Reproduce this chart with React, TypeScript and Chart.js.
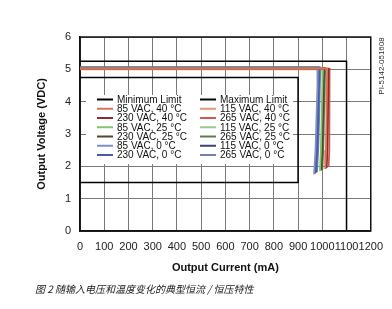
import React, { useEffect, useRef } from "react";
import { Chart, registerables } from "chart.js";

Chart.register(...registerables);

// ---- data ----
const xTicks = [0, 100, 200, 300, 400, 500, 600, 700, 800, 900, 1000, 1100, 1200];
const yTicks = [0, 1, 2, 3, 4, 5, 6];

const minLimitCurrent = [0, 900, 900, 0];
const minLimitVoltage = [4.75, 4.75, 1.5, 1.5];
const maxLimitCurrent = [0, 1100, 1100];
const maxLimitVoltage = [5.25, 5.25, 0];

const seriesNames = [
  "85 VAC, 40 °C", "230 VAC, 40 °C", "85 VAC, 25 °C", "230 VAC, 25 °C", "85 VAC, 0 °C", "230 VAC, 0 °C",
  "115 VAC, 40 °C", "265 VAC, 40 °C", "115 VAC, 25 °C", "265 VAC, 25 °C", "115 VAC, 0 °C", "265 VAC, 0 °C",
];
const seriesColors = [
  "#d9735a", "#8c2d2d", "#86c46a", "#4f4a2e", "#7f8fcc", "#4a5aa8",
  "#e8956a", "#cc5a50", "#9bcb85", "#5f7a55", "#3f4468", "#6f80b8",
];

const current85_40 = [0, 1020, 1019, 1017, 1015, 1012];
const voltage85_40 = [5.02, 5.02, 4.5, 3.5, 2.5, 1.92];
const current230_40 = [0, 1026, 1025, 1023, 1021, 1018];
const voltage230_40 = [5.02, 5.02, 4.5, 3.5, 2.5, 1.95];
const current85_25 = [0, 1002, 1000, 997, 994, 990];
const voltage85_25 = [5.04, 5.04, 4.5, 3.5, 2.5, 1.85];
const current230_25 = [0, 1008, 1006, 1003, 1000, 996];
const voltage230_25 = [5.04, 5.04, 4.5, 3.5, 2.5, 1.88];
const current85_0 = [0, 982, 980, 976, 972, 966];
const voltage85_0 = [5.06, 5.06, 4.5, 3.5, 2.5, 1.75];
const current230_0 = [0, 988, 986, 983, 979, 974];
const voltage230_0 = [5.05, 5.05, 4.5, 3.5, 2.5, 1.8];
const current115_40 = [0, 1023, 1022, 1020, 1018, 1015];
const voltage115_40 = [5.0, 5.0, 4.5, 3.5, 2.5, 1.93];
const current265_40 = [0, 1030, 1030, 1029, 1028, 1026];
const voltage265_40 = [5.01, 5.01, 4.5, 3.5, 2.5, 1.98];
const current115_25 = [0, 1005, 1003, 1000, 997, 993];
const voltage115_25 = [5.03, 5.03, 4.5, 3.5, 2.5, 1.86];
const current265_25 = [0, 1012, 1010, 1007, 1004, 1000];
const voltage265_25 = [5.03, 5.03, 4.5, 3.5, 2.5, 1.9];
const current115_0 = [0, 985, 983, 979, 975, 970];
const voltage115_0 = [5.06, 5.06, 4.5, 3.5, 2.5, 1.78];
const current265_0 = [0, 992, 990, 987, 983, 978];
const voltage265_0 = [5.05, 5.05, 4.5, 3.5, 2.5, 1.82];

const seriesCurrents = [
  current85_40, current230_40, current85_25, current230_25, current85_0, current230_0,
  current115_40, current265_40, current115_25, current265_25, current115_0, current265_0,
];
const seriesVoltages = [
  voltage85_40, voltage230_40, voltage85_25, voltage230_25, voltage85_0, voltage230_0,
  voltage115_40, voltage265_40, voltage115_25, voltage265_25, voltage115_0, voltage265_0,
];

const legendCol1 = ["Minimum Limit", ...seriesNames.slice(0, 6)];
const legendCol2 = ["Maximum Limit", ...seriesNames.slice(6)];
const legendColors1 = ["#000000", ...seriesColors.slice(0, 6)];
const legendColors2 = ["#000000", ...seriesColors.slice(6)];

const captionText = "图 2 随输入电压和温度变化的典型恒流 / 恒压特性";
const sideText = "PI-5142-051608";

const zip = (xs: number[], ys: number[]) => xs.map((x, i) => ({ x, y: ys[i] }));

const FONT = '"Liberation Sans", Arial, Helvetica, sans-serif';

const overlayPlugin = {
  id: "overlay",
  beforeDatasetsDraw(chart: any) {
    const ctx = chart.ctx;
    const a = chart.chartArea;
    ctx.save();
    // legend box
    ctx.fillStyle = "#ffffff";
    ctx.fillRect(86, 95, 207, 69);
    ctx.font = "10px " + FONT;
    ctx.textBaseline = "middle";
    ctx.textAlign = "left";
    for (let i = 0; i < 7; i++) {
      const y = 99.5 + i * 9.25;
      ctx.strokeStyle = legendColors1[i];
      ctx.lineWidth = 2;
      ctx.beginPath();
      ctx.moveTo(97, y);
      ctx.lineTo(113, y);
      ctx.stroke();
      ctx.fillStyle = "#111";
      ctx.fillText(legendCol1[i], 117, y + 0.5);
      ctx.strokeStyle = legendColors2[i];
      ctx.beginPath();
      ctx.moveTo(200, y);
      ctx.lineTo(216, y);
      ctx.stroke();
      ctx.fillText(legendCol2[i], 220, y + 0.5);
    }
    // frame
    ctx.strokeStyle = "#111";
    ctx.lineWidth = 1.5;
    ctx.strokeRect(a.left, a.top, a.right - a.left, a.bottom - a.top);
    ctx.restore();
  },
  afterDraw(chart: any) {
    const ctx = chart.ctx;
    ctx.save();
    ctx.fillStyle = "#222";
    ctx.font = 'italic 10px "Noto Sans CJK SC", sans-serif';
    ctx.textBaseline = "middle";
    ctx.textAlign = "left";
    ctx.fillText(captionText, 35, 289);
    ctx.translate(382, 66);
    ctx.rotate(-Math.PI / 2);
    ctx.font = "8px " + FONT;
    ctx.textAlign = "center";
    ctx.fillStyle = "#333";
    ctx.fillText(sideText, 0, 0);
    ctx.restore();
  },
};

export default function App() {
  const ref = useRef<HTMLCanvasElement>(null);
  useEffect(() => {
    if (!ref.current) return;
    const datasets: any[] = [];
    seriesNames.forEach((name, i) => {
      datasets.push({
        label: name,
        data: zip(seriesCurrents[i], seriesVoltages[i]),
        borderColor: seriesColors[i],
        backgroundColor: seriesColors[i],
        borderWidth: 1.8,
        showLine: true,
        pointRadius: 0,
        tension: 0,
      });
    });
    datasets.push({
      label: "Minimum Limit",
      data: zip(minLimitCurrent, minLimitVoltage),
      borderColor: "#000",
      borderWidth: 1.5,
      showLine: true,
      pointRadius: 0,
    });
    datasets.push({
      label: "Maximum Limit",
      data: zip(maxLimitCurrent, maxLimitVoltage),
      borderColor: "#000",
      borderWidth: 1.5,
      showLine: true,
      pointRadius: 0,
    });
    const chart = new Chart(ref.current, {
      type: "scatter",
      data: { datasets },
      plugins: [overlayPlugin],
      options: {
        animation: false,
        responsive: false,
        devicePixelRatio: 1,
        layout: { padding: { top: 37, right: 18, bottom: 0, left: 0 } },
        plugins: { legend: { display: false }, tooltip: { enabled: false } },
        scales: {
          x: {
            type: "linear",
            min: 0,
            max: 1200,
            afterFit: (s: any) => { s.height = 78; },
            afterBuildTicks: (s: any) => { s.ticks = xTicks.map((v) => ({ value: v })); },
            ticks: {
              color: "#222",
              font: { size: 11, family: FONT },
              padding: 9,
              maxRotation: 0,
              autoSkip: false,
              callback: (v: any) => String(v),
            },
            grid: { color: "#7a7a7a", lineWidth: 1, drawTicks: false },
            border: { color: "#111", width: 1.5 },
            title: {
              display: true,
              text: "Output Current (mA)",
              color: "#111",
              font: { size: 11, weight: "bold", family: FONT },
              padding: { top: 0, bottom: 34 },
            },
          },
          y: {
            type: "linear",
            min: 0,
            max: 6,
            afterFit: (s: any) => { s.width = 80; },
            afterBuildTicks: (s: any) => { s.ticks = yTicks.map((v) => ({ value: v })); },
            ticks: { color: "#222", font: { size: 11, family: FONT }, padding: 9, callback: (v: any) => String(v) },
            grid: { color: "#7a7a7a", lineWidth: 1, drawTicks: false },
            border: { color: "#111", width: 1.5 },
            title: {
              display: true,
              text: "Output Voltage (VDC)",
              color: "#111",
              font: { size: 11, weight: "bold", family: FONT },
              padding: { top: 35, bottom: 0 },
            },
          },
        },
      },
    });
    return () => chart.destroy();
  }, []);
  return (
    <div style={{ position: "absolute", left: 0, top: 0, width: 392, height: 309, background: "#fff" }}>
      <canvas ref={ref} width={392} height={309} style={{ display: "block", width: 392, height: 309 }} />
    </div>
  );
}
